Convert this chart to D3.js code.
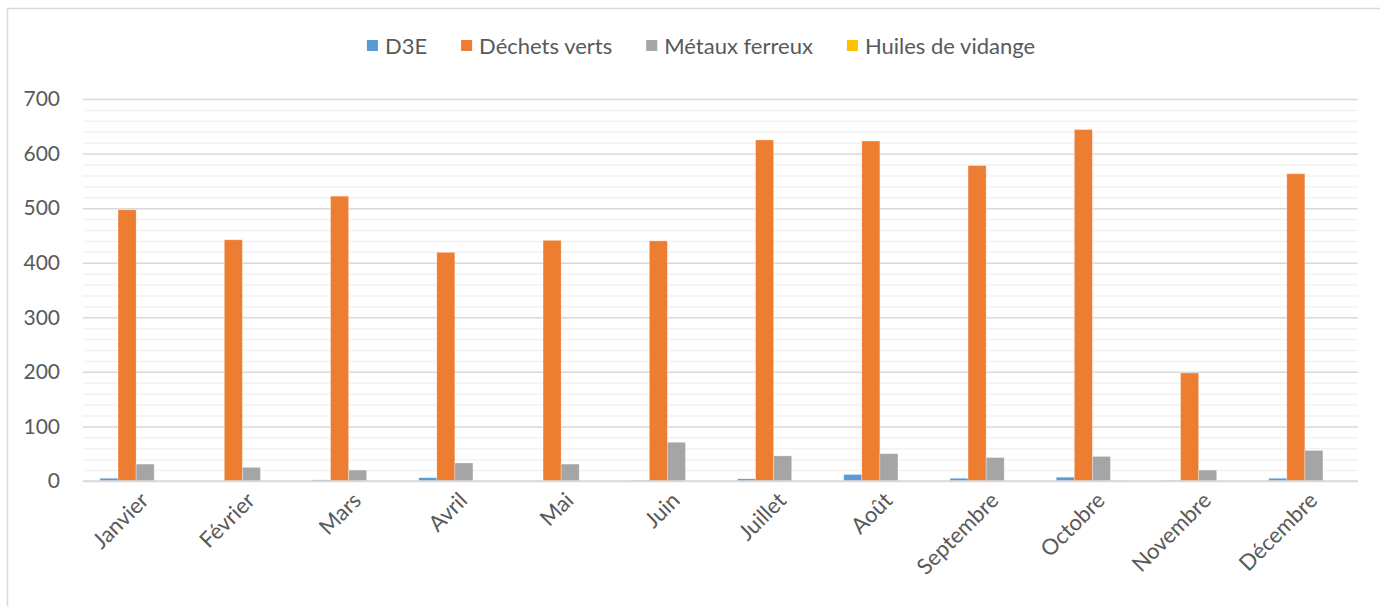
<!DOCTYPE html>
<html>
<head>
<meta charset="utf-8">
<script src="https://cdn.jsdelivr.net/npm/d3@7"></script>
<style>
  body { margin: 0; background: #fff; }
  svg { display: block; font-family: Lato, "Noto Sans", sans-serif; }
</style>
</head>
<body>
<svg id="chart" width="1380" height="606"></svg>
<script>
let months = ['Janvier', 'Février', 'Mars', 'Avril', 'Mai', 'Juin', 'Juillet', 'Août', 'Septembre', 'Octobre', 'Novembre', 'Décembre']
let seriesNames = ['D3E', 'Déchets verts', 'Métaux ferreux', 'Huiles de vidange']
let colors = ['#5B9BD5', '#ED7D31', '#A5A5A5', '#FFC000']

let d3e = [5, 0, 2, 6, 0, 1, 4, 12, 5, 7, 1, 5]
let dechetsVerts = [497, 442, 522, 419, 441, 440, 625, 623, 578, 644, 198, 563]
let metauxFerreux = [31, 25, 20, 33, 31, 71, 46, 50, 43, 45, 20, 56]
let huiles = [0, 0, 0, 0, 0, 0, 0, 0, 0, 1, 0, 0]

let yTicks = [0, 100, 200, 300, 400, 500, 600, 700]

let values = [d3e, dechetsVerts, metauxFerreux, huiles]

let svg = d3.select('#chart')
let textColor = '#595959'

// frame
svg.append('rect')
   .attr('x', 7.5).attr('y', 8.5)
   .attr('width', 1400).attr('height', 700)
   .attr('fill', 'none')
   .attr('stroke', '#D9D9D9')
   .attr('stroke-width', 1.5)

let plotLeft = 83, plotRight = 1358, plotTop = 99, plotBottom = 481

let x0 = d3.scaleBand().domain(months).range([plotLeft, plotRight])
let bw = x0.bandwidth()
let x1 = d3.scaleBand().domain(seriesNames).range([bw * 0.16, bw * 0.84])
let y = d3.scaleLinear().domain([0, 700]).range([plotBottom, plotTop])

// minor grid
let minor = d3.range(0, 701, 20).filter(v => v % 100 !== 0)
svg.append('g').selectAll('line')
   .data(minor).enter().append('line')
   .attr('x1', plotLeft).attr('x2', plotRight)
   .attr('y1', d => y(d) + 0.5).attr('y2', d => y(d) + 0.5)
   .attr('stroke', '#F2F2F2').attr('stroke-width', 1.5)

// major grid + y labels
let yAxis = d3.axisLeft(y).tickValues(yTicks).tickSize(-(plotRight - plotLeft)).tickPadding(23)
let gy = svg.append('g').attr('transform', `translate(${plotLeft},0)`).call(yAxis)
gy.select('.domain').remove()
gy.selectAll('.tick line').attr('stroke', '#D9D9D9').attr('stroke-width', 1.5)
gy.selectAll('.tick text')
  .attr('fill', textColor)
  .style('font-size', '21px')
  .style('font-family', 'Lato, sans-serif')

// bars
let groups = svg.append('g').selectAll('g')
   .data(months).enter().append('g')
   .attr('transform', d => `translate(${x0(d)},0)`)

groups.selectAll('rect')
   .data((m, i) => seriesNames.map((s, j) => ({ s: s, v: values[j][i], c: colors[j] })))
   .enter().append('rect')
   .attr('x', d => x1(d.s))
   .attr('width', x1.bandwidth())
   .attr('y', d => y(d.v))
   .attr('height', d => plotBottom - y(d.v))
   .attr('fill', d => d.c)
   .attr('stroke', '#fff').attr('stroke-opacity', 0.4).attr('stroke-width', 0.75)

// baseline
svg.append('line')
   .attr('x1', plotLeft).attr('x2', plotRight)
   .attr('y1', plotBottom).attr('y2', plotBottom)
   .attr('stroke', '#D9D9D9').attr('stroke-width', 1.5)

// x labels
svg.append('g').selectAll('text')
   .data(months).enter().append('text')
   .attr('transform', d => `translate(${x0(d) + bw / 2 + 3},${plotBottom + 10}) rotate(-45)`)
   .attr('text-anchor', 'end')
   .attr('dy', '0.7em')
   .attr('fill', textColor)
   .style('font-size', '22px')
   .text(d => d)

// legend
let legend = svg.append('g')
let lx = 0
let itemGap = 34
seriesNames.forEach((s, i) => {
    let item = legend.append('g').attr('transform', `translate(${lx},0)`)
    item.append('rect')
        .attr('x', 0).attr('y', -6)
        .attr('width', 11).attr('height', 11)
        .attr('fill', colors[i])
    let t = item.append('text')
        .attr('x', 18).attr('y', 0)
        .attr('dy', '0.35em')
        .attr('fill', textColor)
        .style('font-size', '22px')
        .text(s)
    lx += 18 + t.node().getComputedTextLength() + itemGap
})
let lw = lx - itemGap
legend.attr('transform', `translate(${701 - lw / 2},46)`)
</script>
</body>
</html>
